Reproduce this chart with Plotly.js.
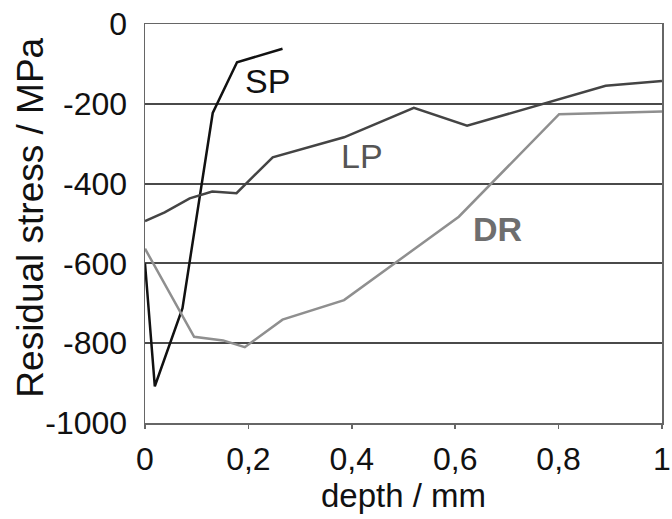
<!DOCTYPE html>
<html>
<head>
<meta charset="utf-8">
<script src="https://cdn.plot.ly/plotly-3.0.1.min.js"></script>
<style>html,body{margin:0;padding:0;background:#fff;}#chart{width:672px;height:519px;}</style>
</head>
<body>
<div id="chart"></div>
<script>
// Series values (depth in mm, residual stress in MPa)
const spDepth  = [0, 0.019, 0.0725, 0.131, 0.178, 0.266];
const spStress = [-600, -908, -712, -223, -96, -62];

const lpDepth  = [0, 0.038, 0.0865, 0.130, 0.177, 0.247, 0.385, 0.520, 0.623, 0.891, 1.0];
const lpStress = [-494, -472, -437, -420, -424, -334, -284, -210, -255, -155, -143];

const drDepth  = [0, 0.095, 0.151, 0.193, 0.266, 0.385, 0.607, 0.801, 1.0];
const drStress = [-563, -784, -793, -810, -741, -692, -483, -226, -219];

const xTickVals = [0, 0.2, 0.4, 0.6, 0.8, 1];
const xTickText = ["0", "0,2", "0,4", "0,6", "0,8", "1"];
const yTickVals = [0, -200, -400, -600, -800, -1000];
const yTickText = ["0", "-200", "-400", "-600", "-800", "-1000"];

const seriesLabels = [
  {text: "SP", x: 0.237, y: -142, color: "#111111", bold: false},
  {text: "LP", x: 0.419, y: -330, color: "#555555", bold: false},
  {text: "DR", x: 0.681, y: -514, color: "#6e6e6e", bold: true}
];

const FONT = "Liberation Sans, Arial, sans-serif";

const traces = [
  {x: spDepth, y: spStress, mode: "lines", line: {color: "#111111", width: 2.5}, name: "SP"},
  {x: lpDepth, y: lpStress, mode: "lines", line: {color: "#444444", width: 2.5}, name: "LP"},
  {x: drDepth, y: drStress, mode: "lines", line: {color: "#8f8f8f", width: 2.5}, name: "DR"}
];

const annotations = seriesLabels.map(s => ({
  x: s.x, y: s.y, xref: "x", yref: "y",
  text: s.bold ? "<b>" + s.text + "</b>" : s.text, showarrow: false,
  font: {family: FONT, size: 34, color: s.color}
}));
// y-axis title placed as rotated text to match the reference spacing
annotations.push({
  x: -0.221, y: 0.514, xref: "paper", yref: "paper", xanchor: "center", yanchor: "middle",
  text: "Residual stress / MPa", textangle: -90, showarrow: false,
  font: {family: FONT, size: 37, color: "#111111"}
});

const layout = {
  width: 672, height: 519,
  margin: {l: 145, r: 10, t: 24, b: 96},
  paper_bgcolor: "#ffffff", plot_bgcolor: "#ffffff",
  showlegend: false,
  font: {family: FONT, color: "#111111", size: 33},
  xaxis: {
    range: [0, 1], tickvals: xTickVals, ticktext: xTickText,
    showgrid: false, zeroline: false,
    showline: true, mirror: true, linecolor: "#666666", linewidth: 1.5,
    ticks: "outside", ticklen: 4, tickcolor: "#666666", tickwidth: 1.5,
    ticklabelstandoff: 3, ticklabeloverflow: "allow",
    tickfont: {family: FONT, size: 32, color: "#111111"},
    title: {text: "depth / mm", font: {family: FONT, size: 33, color: "#111111"}, standoff: 5}
  },
  yaxis: {
    range: [-1000, 0], tickvals: yTickVals, ticktext: yTickText,
    showgrid: true, gridcolor: "#4a4a4a", gridwidth: 1.8, zeroline: false,
    showline: true, mirror: true, linecolor: "#666666", linewidth: 1.5,
    ticks: "", ticklabelstandoff: 10,
    tickfont: {family: FONT, size: 32, color: "#111111"}
  },
  annotations: annotations
};

Plotly.newPlot("chart", traces, layout, {displayModeBar: false, staticPlot: true});
</script>
</body>
</html>
